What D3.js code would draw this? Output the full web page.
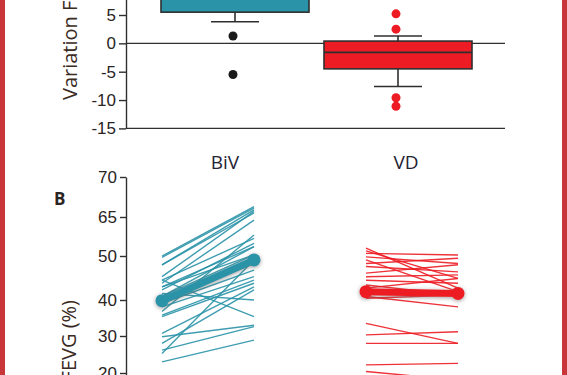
<!DOCTYPE html>
<html>
<head>
<meta charset="utf-8">
<script src="https://cdn.jsdelivr.net/npm/d3@7"></script>
<style>
  body { margin: 0; background: #fff; }
  svg { display: block; font-family: "Open Sans", "Noto Sans", sans-serif; }
  .tick text { font-size: 17px; fill: #2a2422; }
  .axis path, .axis line { stroke: #2f2f2f; stroke-width: 1.4; }
</style>
</head>
<body>
<div id="chart"></div>
<script>
const categories = ["BiV", "VD"];

// panel A: variation box plots
const boxQ1 = [5.5, -4.5];
const boxMedian = [10.5, -1.6];
const boxQ3 = [16, 0.4];
const whiskerLow = [3.8, -7.6];
const whiskerHigh = [24, 1.3];
const outliers = [[1.3, -5.5], [5.2, 2.5, -9.6, -11.1]];
const variationTicks = [-15, -10, -5, 0, 5];

// panel B: FEVG before / after, one line per patient
const fevgTicks = [20, 30, 40, 50, 65, 70];
const bivBefore = [50.0, 49.7, 48.0, 48.0, 45.3, 44.5, 43.8, 43.0, 42.3, 41.5, 40.8, 40.0, 39.1, 38.1, 36.8, 35.8, 35.4, 44.5, 30.7, 29.8, 28.0, 26.2, 25.3, 23.0, 40.8, 43.0];
const bivAfter  = [66.3, 66.1, 65.9, 65.5, 65.7, 56.8, 63.8, 50.4, 54.9, 40.0, 53.6, 48.3, 46.8, 45.3, 58.1, 44.5, 43.8, 35.4, 43.0, 33.0, 42.3, 32.6, 49.1, 28.9, 50.4, 53.6];
const vdBefore  = [53.0, 52.0, 51.0, 49.8, 49.1, 48.3, 47.6, 46.1, 45.3, 44.5, 43.4, 42.7, 40.8, 40.4, 33.5, 30.3, 28.0, 22.2, 20.4];
const vdAfter   = [42.7, 44.9, 50.4, 48.3, 41.9, 49.5, 46.4, 48.0, 45.7, 43.8, 41.1, 44.9, 38.1, 41.1, 28.0, 31.2, 28.0, 22.6, 18.1];
const bivMean = [39.8, 49.1];
const vdMean = [41.9, 41.5];

const colors = ["#2a93a8", "#ed1c24"];

const width = 567, height = 375;
const axisX = 126;

const svg = d3.select("#chart")
    .append("svg")
    .attr("width", width)
    .attr("height", height);

svg.append("rect").attr("width", width).attr("height", height).attr("fill", "#fff");

let defs = svg.append("defs");
defs.append("filter")
    .attr("id", "glow")
    .attr("x", "-50%").attr("y", "-50%").attr("width", "200%").attr("height", "200%")
  .append("feDropShadow")
    .attr("dx", 0).attr("dy", 1)
    .attr("stdDeviation", 2)
    .attr("flood-color", "#555")
    .attr("flood-opacity", 0.6);

// ---------- panel A ----------
let yA = d3.scaleLinear()
    .domain([-15, 25])
    .range([128.4, -98.4]);

let xA = d3.scalePoint()
    .domain(categories)
    .range([235, 398]);

const boxW = 148, capW = 48;

svg.append("g")
    .attr("class", "axis")
    .attr("transform", `translate(${axisX},0)`)
    .call(d3.axisLeft(yA).tickValues(variationTicks).tickSize(7).tickSizeOuter(0).tickPadding(3)
        .tickFormat(d => String(d)));

// zero line and bottom line
[0, -15].forEach(v => {
    svg.append("line")
        .attr("x1", axisX).attr("x2", 505)
        .attr("y1", yA(v)).attr("y2", yA(v))
        .attr("stroke", "#2f2f2f").attr("stroke-width", 1.4);
});

let box = svg.selectAll(".box")
    .data(categories)
    .join("g")
    .attr("class", "box");

box.append("line")
    .attr("x1", d => xA(d)).attr("x2", d => xA(d))
    .attr("y1", (d, i) => yA(whiskerLow[i])).attr("y2", (d, i) => yA(whiskerHigh[i]))
    .attr("stroke", "#2f2f2f").attr("stroke-width", 1.6);

box.selectAll(".cap")
    .data((d, i) => [whiskerLow[i], whiskerHigh[i]].map(v => ({ c: d, v: v })))
    .join("line")
    .attr("x1", d => xA(d.c) - capW / 2).attr("x2", d => xA(d.c) + capW / 2)
    .attr("y1", d => yA(d.v)).attr("y2", d => yA(d.v))
    .attr("stroke", "#2f2f2f").attr("stroke-width", 1.6);

box.append("rect")
    .attr("x", d => xA(d) - boxW / 2)
    .attr("width", boxW)
    .attr("y", (d, i) => yA(boxQ3[i]))
    .attr("height", (d, i) => yA(boxQ1[i]) - yA(boxQ3[i]))
    .attr("fill", (d, i) => colors[i])
    .attr("stroke", "#2f2f2f").attr("stroke-width", 1.6);

box.append("line")
    .attr("x1", d => xA(d) - boxW / 2).attr("x2", d => xA(d) + boxW / 2)
    .attr("y1", (d, i) => yA(boxMedian[i])).attr("y2", (d, i) => yA(boxMedian[i]))
    .attr("stroke", "#2f2f2f").attr("stroke-width", 1.6);

box.selectAll("circle")
    .data((d, i) => outliers[i].map(v => ({ c: d, v: v, i: i })))
    .join("circle")
    .attr("cx", d => xA(d.c) - 2)
    .attr("cy", d => yA(d.v))
    .attr("r", 4.5)
    .attr("fill", d => d.i == 0 ? "#1a1a1a" : colors[1]);

svg.append("text")
    .attr("transform", `translate(77,100) rotate(-90)`)
    .attr("font-size", 20)
    .attr("fill", "#3a2a22")
    .text("Variation FEVG (%)");

// category labels
let xLab = d3.scalePoint().domain(categories).range([225, 406]);
svg.selectAll(".cat")
    .data(categories)
    .join("text")
    .attr("class", "cat")
    .attr("x", d => xLab(d))
    .attr("y", 169)
    .attr("text-anchor", "middle")
    .attr("font-size", 19)
    .attr("fill", "#1f2433")
    .text(d => d);

// ---------- panel B ----------
let yB = d3.scaleLinear()
    .domain([10, 20, 30, 40, 50, 65, 70])
    .range([410, 373, 336, 300, 256, 217, 177]);

let xB = d3.scalePoint()
    .domain(categories)
    .range([208, 412]);
const half = 46;

svg.append("g")
    .attr("class", "axis")
    .attr("transform", `translate(${axisX},0)`)
    .call(d3.axisLeft(yB).tickValues(fevgTicks).tickSize(6).tickSizeOuter(0).tickPadding(3));

svg.append("text")
    .attr("x", 54).attr("y", 205)
    .attr("font-size", 17).attr("font-weight", "bold")
    .attr("fill", "#2a2422")
    .text("B");

svg.append("text")
    .attr("transform", `translate(76,300) rotate(-90)`)
    .attr("text-anchor", "end")
    .attr("font-size", 20)
    .attr("fill", "#3a2a22")
    .text("FEVG (%)");

const groups = [
    { c: "BiV", before: bivBefore, after: bivAfter, mean: bivMean, color: colors[0] },
    { c: "VD", before: vdBefore, after: vdAfter, mean: vdMean, color: colors[1] }
];

groups.forEach(g => {
    svg.append("g")
        .selectAll("line")
        .data(g.before.map((v, i) => [v, g.after[i]]))
        .join("line")
        .attr("x1", xB(g.c) - half).attr("x2", xB(g.c) + half)
        .attr("y1", d => yB(d[0])).attr("y2", d => yB(d[1]))
        .attr("stroke", g.color)
        .attr("stroke-width", 1.4)
        .attr("opacity", 0.9);

    let m = svg.append("g").attr("filter", "url(#glow)");
    m.append("line")
        .attr("x1", xB(g.c) - half).attr("x2", xB(g.c) + half)
        .attr("y1", yB(g.mean[0])).attr("y2", yB(g.mean[1]))
        .attr("stroke", g.color)
        .attr("stroke-width", 7);
    m.selectAll("circle")
        .data(g.mean.map((v, i) => ({ v: v, k: i })))
        .join("circle")
        .attr("cx", d => xB(g.c) + (d.k ? half : -half))
        .attr("cy", d => yB(d.v))
        .attr("r", 6.5)
        .attr("fill", g.color);
});

// page frame
svg.append("rect").attr("x", 0).attr("y", 0).attr("width", 5).attr("height", height).attr("fill", "#c8363a");
svg.append("rect").attr("x", 562).attr("y", 0).attr("width", 5).attr("height", height).attr("fill", "#c8363a");
</script>
</body>
</html>
